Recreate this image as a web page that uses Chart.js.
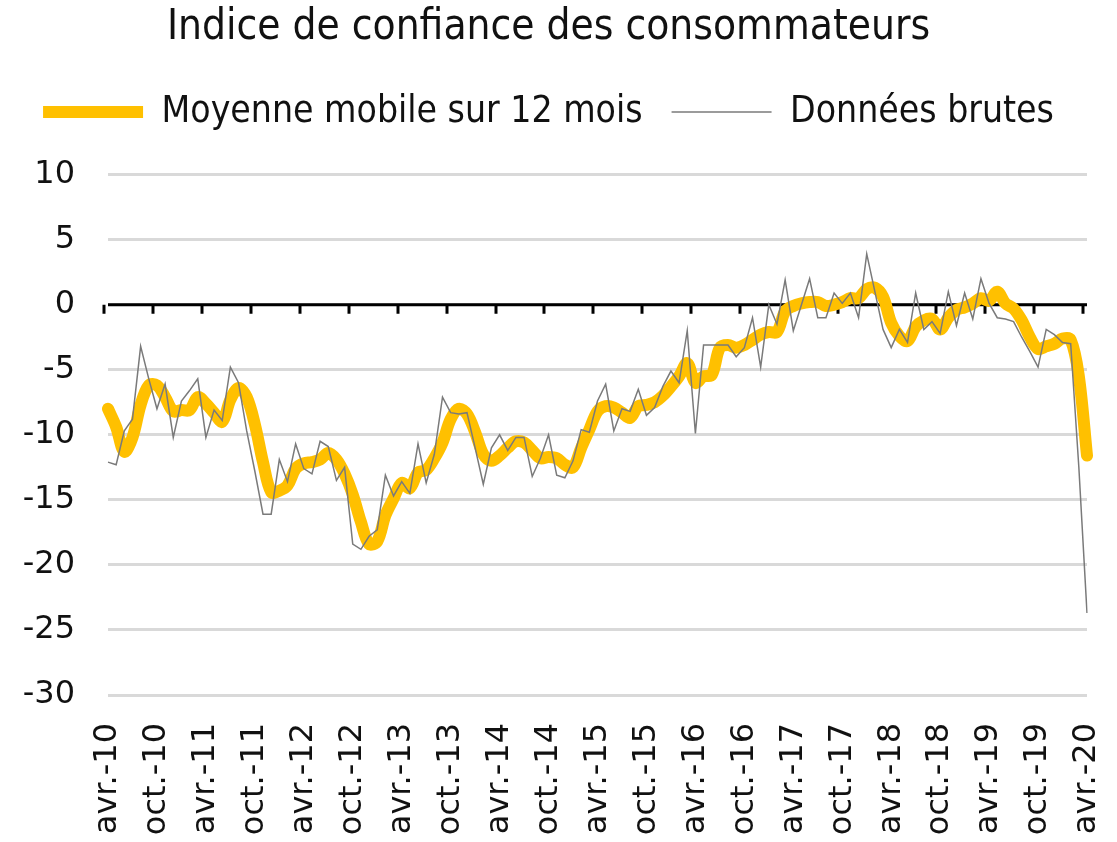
<!DOCTYPE html>
<html>
<head>
<meta charset="utf-8">
<script src="https://cdn.jsdelivr.net/npm/chart.js@4.4.1/dist/chart.umd.min.js"></script>
<style>
  html, body { margin: 0; padding: 0; background: #fff; }
  #wrap { width: 1117px; height: 842px; }
</style>
</head>
<body>
<div id="wrap"><canvas id="chart"></canvas></div>
<script>
// mois (avr. 2010 -> avr. 2020)
const monthNames = ['janv.', 'févr.', 'mars', 'avr.', 'mai', 'juin', 'juil.', 'août', 'sept.', 'oct.', 'nov.', 'déc.'];
const startYear = 2010;
const startMonth = 3;

// Données brutes
const brutes = [
  -12.1, -12.3, -9.7, -8.8, -3.2, -5.7, -8.0, -6.1, -10.2, -7.4, -6.6, -5.7,
  -10.2, -8.1, -8.9, -4.8, -6.0, -9.7, -12.8, -16.1, -16.1, -11.9, -13.6, -10.7,
  -12.6, -13.0, -10.5, -10.9, -13.5, -12.5, -18.4, -18.8, -17.8, -17.3, -13.1, -14.7,
  -13.6, -14.5, -10.7, -13.7, -11.5, -7.1, -8.3, -8.4, -8.3, -11.0, -13.8, -11.0,
  -10.0, -11.2, -10.2, -10.2, -13.2, -11.8, -10.0, -13.1, -13.3, -12.0, -9.6, -9.8,
  -7.4, -6.1, -9.7, -8.0, -8.2, -6.5, -8.5, -7.9, -6.3, -5.1, -6.0, -2.0,
  -9.9, -3.1, -3.1, -3.1, -3.1, -4.0, -3.3, -1.0, -4.8, 0.0, -1.5, 1.9,
  -2.0, 0.0, 2.0, -1.0, -1.0, 0.9, 0.1, 0.9, -1.0, 3.9, 1.0, -1.9,
  -3.3, -1.9, -2.9, 0.9, -1.9, -1.3, -2.2, 1.0, -1.6, 0.9, -1.1, 2.0,
  0.1, -1.0, -1.1, -1.3, -2.5, -3.6, -4.8, -1.9, -2.3, -2.9, -3.0, -12.5,
  -23.7
];

// Moyenne mobile sur 12 mois
const moyenne = [
  -8.0, -9.4, -11.3, -10.2, -7.7, -6.2, -6.2, -7.1, -8.2, -8.1, -8.1, -7.1,
  -7.6, -8.3, -9.0, -7.3, -6.4, -7.1, -9.2, -12.1, -14.4, -14.3, -13.9, -12.6,
  -12.2, -12.1, -11.9, -11.4, -11.9, -13.0, -14.6, -16.7, -18.4, -18.2, -16.2, -14.9,
  -13.7, -14.1, -12.9, -12.7, -11.8, -10.6, -8.8, -8.0, -8.4, -9.8, -11.5, -12.0,
  -11.6, -11.0, -10.5, -10.6, -11.2, -11.8, -11.7, -11.8, -12.3, -12.5, -11.0, -9.6,
  -8.2, -7.8, -7.9, -8.3, -8.7, -7.8, -7.7, -7.5, -7.0, -6.3, -5.5, -4.5,
  -6.0, -5.5, -5.4, -3.3, -3.1, -3.3, -3.1, -2.7, -2.3, -2.1, -2.1, -0.5,
  -0.1, 0.1, 0.2, 0.2, -0.1, 0.0, 0.2, 0.5, 0.5, 1.2, 1.3, 0.6,
  -1.4, -2.4, -2.8, -1.7, -1.2, -1.1, -1.9, -1.0, -0.4, -0.2, 0.1, 0.5,
  0.3, 1.0, 0.1, -0.3, -1.2, -2.5, -3.4, -3.2, -3.0, -2.6, -2.7, -5.5,
  -11.6
];

const yMin = -30;
const yMax = 10;
const yStep = 5;
const labelEvery = 6;

const labels = brutes.map((_, i) => {
  const m = startMonth + i;
  const year = startYear + Math.floor(m / 12);
  return monthNames[m % 12] + '-' + String(year).slice(2);
});

// ligne du zéro noire avec petites graduations tous les 6 mois
const zeroAxis = {
  id: 'zeroAxis',
  beforeDatasetsDraw(chart) {
    const { ctx, scales: { x, y }, chartArea } = chart;
    const y0 = y.getPixelForValue(0);
    const half = (x.getPixelForValue(1) - x.getPixelForValue(0)) / 2;
    ctx.save();
    ctx.strokeStyle = '#000';
    ctx.lineWidth = 3;
    ctx.beginPath();
    ctx.moveTo(chartArea.left, y0);
    ctx.lineTo(chartArea.right, y0);
    for (let i = 0; i <= labels.length; i += labelEvery) {
      const px = Math.round(x.getPixelForValue(i) - half);
      ctx.moveTo(px, y0);
      ctx.lineTo(px, y0 + 9);
    }
    ctx.stroke();
    ctx.restore();
  }
};

new Chart(document.getElementById('chart'), {
  type: 'line',
  data: {
    labels: labels,
    datasets: [
      {
        label: 'Moyenne mobile sur 12 mois',
        data: moyenne,
        borderColor: '#FFC000',
        backgroundColor: '#FFC000',
        borderWidth: 12,
        borderCapStyle: 'round',
        borderJoinStyle: 'round',
        pointStyle: 'line',
        pointRadius: 0,
        tension: 0.35,
        order: 2
      },
      {
        label: 'Données brutes',
        data: brutes,
        borderColor: '#7a7a7a',
        backgroundColor: '#7a7a7a',
        borderWidth: 1.5,
        pointStyle: 'line',
        pointRadius: 0,
        tension: 0,
        order: 1
      }
    ]
  },
  options: {
    responsive: true,
    maintainAspectRatio: false,
    animation: false,
    layout: { padding: { left: 10, right: 30, top: 0, bottom: 4 } },
    plugins: {
      title: {
        display: true,
        text: 'Indice de confiance des consommateurs',
        color: '#111',
        font: { family: 'DejaVu Sans Condensed', size: 42, weight: 'normal' },
        padding: { top: 3, bottom: 11 }
      },
      legend: {
        position: 'top',
        weight: 1800,
        labels: {
          usePointStyle: true,
          pointStyleWidth: 100,
          color: '#111',
          font: { family: 'DejaVu Sans Condensed', size: 37 },
          padding: 29,
          sort: (a, b) => a.datasetIndex - b.datasetIndex
        }
      },
      // sert d'espace entre la légende et le graphique
      subtitle: {
        display: true,
        text: ' ',
        weight: 1500,
        font: { size: 1 },
        padding: { top: 0, bottom: 33 }
      },
      tooltip: { enabled: false }
    },
    scales: {
      x: {
        afterFit(scale) {
          scale.height = 143;
          scale.paddingRight = 0;
        },
        grid: { display: false },
        border: { display: false },
        ticks: {
          autoSkip: false,
          maxRotation: 90,
          minRotation: 90,
          color: '#111',
          padding: 20,
          font: { family: 'DejaVu Sans', size: 32 },
          callback: function (val, index) {
            return index % labelEvery === 0 ? this.getLabelForValue(val) : null;
          }
        }
      },
      y: {
        min: yMin,
        max: yMax,
        afterFit(scale) { scale.width = 98; },
        grid: { color: '#d9d9d9', lineWidth: 3, drawTicks: false },
        border: { display: false },
        ticks: {
          stepSize: yStep,
          color: '#111',
          padding: 33,
          font: { family: 'DejaVu Sans', size: 32 }
        }
      }
    }
  },
  plugins: [zeroAxis]
});
</script>
</body>
</html>
